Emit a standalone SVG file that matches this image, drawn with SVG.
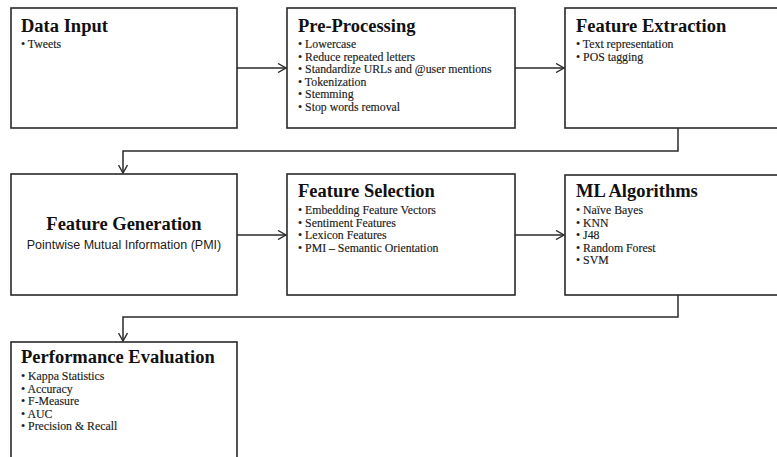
<svg xmlns="http://www.w3.org/2000/svg" width="777" height="457" viewBox="0 0 777 457">
<style>
.box{fill:#fff;stroke:#2a2a2a;stroke-width:1.6}
.title{font-family:"Liberation Serif","Times New Roman",serif;font-weight:bold;font-size:18.5px;fill:#111}
.item{font-family:"Liberation Serif","Times New Roman",serif;font-size:11.8px;fill:#1a1a1a;stroke:#1a1a1a;stroke-width:0.15}
.sub{font-family:"Liberation Sans",Arial,sans-serif;font-size:12.5px;fill:#1a1a1a}
.conn{fill:none;stroke:#2a2a2a;stroke-width:1.5}
</style>
<defs>
<marker id="arr" viewBox="0 0 10 10" refX="9" refY="5" markerWidth="10" markerHeight="10" markerUnits="userSpaceOnUse" orient="auto">
<path d="M1,0.5 L9,5 L1,9.5" fill="none" stroke="#2a2a2a" stroke-width="1.4"/>
</marker>
</defs>
<rect width="777" height="457" fill="#fff"/>
<g id="data-input">
<rect class="box" x="11" y="8" width="226" height="120"/>
<text class="title" x="21" y="32">Data Input</text>
<text class="item" x="21" y="48">• Tweets</text>
</g>
<g id="pre-processing">
<rect class="box" x="287" y="8" width="228" height="120"/>
<text class="title" x="298" y="32">Pre-Processing</text>
<text class="item" x="298" y="48">• Lowercase</text>
<text class="item" x="298" y="60.6">• Reduce repeated letters</text>
<text class="item" x="298" y="73.2">• Standardize URLs and @user mentions</text>
<text class="item" x="298" y="85.8">• Tokenization</text>
<text class="item" x="298" y="98.4">• Stemming</text>
<text class="item" x="298" y="111">• Stop words removal</text>
</g>
<g id="feature-extraction">
<rect class="box" x="565" y="8" width="240" height="120"/>
<text class="title" x="576" y="32">Feature Extraction</text>
<text class="item" x="576" y="48">• Text representation</text>
<text class="item" x="576" y="61">• POS tagging</text>
</g>
<g id="feature-generation">
<rect class="box" x="11" y="174" width="226" height="121"/>
<text class="title" x="124" y="230" text-anchor="middle">Feature Generation</text>
<text class="sub" x="124" y="249" text-anchor="middle">Pointwise Mutual Information (PMI)</text>
</g>
<g id="feature-selection">
<rect class="box" x="287" y="174" width="228" height="121"/>
<text class="title" x="298" y="197">Feature Selection</text>
<text class="item" x="298" y="214">• Embedding Feature Vectors</text>
<text class="item" x="298" y="226.7">• Sentiment Features</text>
<text class="item" x="298" y="239.4">• Lexicon Features</text>
<text class="item" x="298" y="252">• PMI – Semantic Orientation</text>
</g>
<g id="ml-algorithms">
<rect class="box" x="565" y="175" width="240" height="120"/>
<text class="title" x="576" y="197">ML Algorithms</text>
<text class="item" x="576" y="214">• Naïve Bayes</text>
<text class="item" x="576" y="226.6">• KNN</text>
<text class="item" x="576" y="239.2">• J48</text>
<text class="item" x="576" y="251.8">• Random Forest</text>
<text class="item" x="576" y="264.4">• SVM</text>
</g>
<g id="performance-evaluation">
<rect class="box" x="11" y="342" width="226" height="140"/>
<text class="title" x="21" y="363">Performance Evaluation</text>
<text class="item" x="21" y="380">• Kappa Statistics</text>
<text class="item" x="21" y="392.6">• Accuracy</text>
<text class="item" x="21" y="405.2">• F-Measure</text>
<text class="item" x="21" y="417.8">• AUC</text>
<text class="item" x="21" y="430.4">• Precision &amp; Recall</text>
</g>
<g id="connectors">
<path class="conn" d="M237,68 L286,68" marker-end="url(#arr)"/>
<path class="conn" d="M515,68 L564,68" marker-end="url(#arr)"/>
<path class="conn" d="M678,128 L678,151 L123,151 L123,173" marker-end="url(#arr)"/>
<path class="conn" d="M237,235 L286,235" marker-end="url(#arr)"/>
<path class="conn" d="M515,235 L564,235" marker-end="url(#arr)"/>
<path class="conn" d="M678,295 L678,317 L123,317 L123,341" marker-end="url(#arr)"/>
</g>
</svg>
